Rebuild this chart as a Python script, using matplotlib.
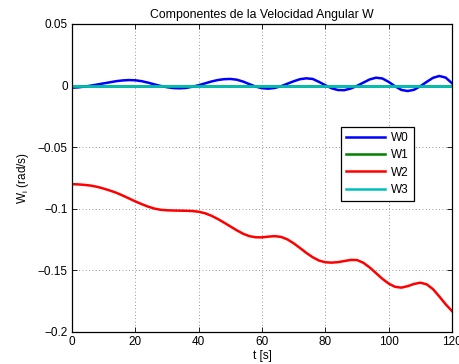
import matplotlib
matplotlib.use("Agg")
import matplotlib.pyplot as plt

# tiempo [s]
t = [0, 2, 4, 6, 8, 10, 12, 14, 16, 18, 20, 22, 24, 26, 28, 30, 32, 34, 36, 38,
     40, 42, 44, 46, 48, 50, 52, 54, 56, 58, 60, 62, 64, 66, 68, 70, 72, 74, 76, 78,
     80, 82, 84, 86, 88, 90, 92, 94, 96, 98, 100, 102, 104, 106, 108, 110, 112, 114,
     116, 118, 120]

W0 = [-0.0017, -0.0014, -0.0008, 0.0000, 0.0009, 0.0018, 0.0027, 0.0036, 0.0042, 0.0045,
      0.0043, 0.0036, 0.0024, 0.0010, -0.0003, -0.0013, -0.0020, -0.0022, -0.0019, -0.0009,
      0.0003, 0.0018, 0.0033, 0.0045, 0.0052, 0.0054, 0.0048, 0.0033, 0.0012, -0.0008,
      -0.0021, -0.0025, -0.0019, -0.0005, 0.0015, 0.0035, 0.0052, 0.0059, 0.0054, 0.0030,
      0.0003, -0.0022, -0.0036, -0.0037, -0.0024, -0.0002, 0.0024, 0.0050, 0.0064, 0.0058,
      0.0030, -0.0005, -0.0035, -0.0044, -0.0034, -0.0005, 0.0030, 0.0063, 0.0078, 0.0065,
      0.0019]

W1 = [0.0] * len(t)

W2 = [-0.0800, -0.0802, -0.0806, -0.0812, -0.0822, -0.0836, -0.0852, -0.0870, -0.0892, -0.0916,
      -0.0940, -0.0962, -0.0982, -0.0998, -0.1008, -0.1012, -0.1014, -0.1015, -0.1016, -0.1018,
      -0.1024, -0.1036, -0.1056, -0.1082, -0.1112, -0.1143, -0.1174, -0.1202, -0.1222, -0.1231,
      -0.1232, -0.1226, -0.1222, -0.1228, -0.1248, -0.1280, -0.1318, -0.1358, -0.1393, -0.1420,
      -0.1434, -0.1437, -0.1433, -0.1424, -0.1415, -0.1416, -0.1438, -0.1476, -0.1522, -0.1568,
      -0.1607, -0.1633, -0.1640, -0.1628, -0.1610, -0.1600, -0.1613, -0.1652, -0.1712, -0.1775,
      -0.1830]

W3 = [0.0] * len(t)

series = [W0, W1, W2, W3]
nombres = ["W0", "W1", "W2", "W3"]
colores = ["#0000ff", "#008000", "#ff0000", "#00bfbf"]

xticks = [0, 20, 40, 60, 80, 100, 120]
yticks = [-0.2, -0.15, -0.1, -0.05, 0, 0.05]
ytick_labels = ["\u22120.2", "\u22120.15", "\u22120.1", "\u22120.05", "0", "0.05"]

plt.rcParams["font.family"] = ["Liberation Sans", "DejaVu Sans"]
plt.rcParams["mathtext.default"] = "regular"
plt.rcParams["font.size"] = 8.5

fig = plt.figure(figsize=(4.6, 3.64), dpi=100)
ax = fig.add_axes([72 / 460, 32 / 364, 380 / 460, 308 / 364])

for y, nombre, c in zip(series, nombres, colores):
    ax.plot(t, y, color=c, lw=1.8, label=nombre)

ax.set_xlim(0, 120)
ax.set_ylim(-0.2, 0.05)
ax.set_xticks(xticks)
ax.set_yticks(yticks)
ax.set_yticklabels(ytick_labels)
ax.tick_params(direction="in", length=3.5, width=0.6, top=True, right=True, pad=3)
ax.grid(True, linestyle=(0, (1, 3)), color="0.45", lw=0.6)
for s in ax.spines.values():
    s.set_linewidth(0.9)

ax.set_title("Componentes de la Velocidad Angular W", fontsize=8.8, pad=4)
ax.set_xlabel("t [s]", labelpad=1)
ax.set_ylabel(r"W$_i$ (rad/s)", labelpad=5)

leg = ax.legend(loc="upper left", bbox_to_anchor=(0.707, 0.667), borderaxespad=0,
                fancybox=False, framealpha=1, edgecolor="black", handlelength=3.3,
                borderpad=0.45, labelspacing=0.45, handletextpad=0.5)
leg.get_frame().set_linewidth(0.9)

fig.savefig("out.png", dpi=100)
